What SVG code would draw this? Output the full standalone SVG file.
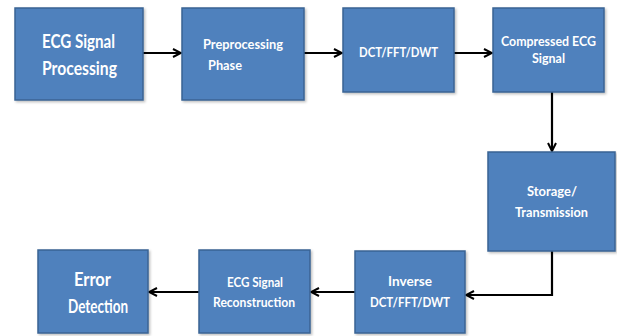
<svg xmlns="http://www.w3.org/2000/svg" width="617" height="336" viewBox="0 0 617 336">
<defs>
<marker id="ah" viewBox="0 0 10 10" refX="9" refY="5" markerWidth="10" markerHeight="10" markerUnits="userSpaceOnUse" orient="auto">
<path d="M1,1 L9,5 L1,9" fill="none" stroke="#000" stroke-width="2"/>
</marker>
<filter id="sh" x="-10%" y="-10%" width="130%" height="130%">
<feDropShadow dx="1.5" dy="1.5" stdDeviation="1" flood-color="#000" flood-opacity="0.25"/>
</filter>
</defs>
<style>
.box{fill:#4F81BD;stroke:#3A6494;stroke-width:1.5;filter:url(#sh)}
.t{font-family:Lato,"Open Sans","Liberation Sans",sans-serif;font-weight:bold;fill:#fff}
.s{font-size:13.5px}
.l{font-size:19px}
.c{fill:none;stroke:#000;stroke-width:2.2;marker-end:url(#ah)}
</style>
<rect width="617" height="336" fill="#fff"/>
<g id="connectors">
<line class="c" x1="143" y1="53" x2="181" y2="53"/>
<line class="c" x1="304" y1="53" x2="342" y2="53"/>
<line class="c" x1="454" y1="53" x2="492" y2="53"/>
<line class="c" x1="552" y1="92" x2="552" y2="151"/>
<polyline class="c" points="552,251 552,295 466,295"/>
<line class="c" x1="355" y1="292" x2="311" y2="292"/>
<line class="c" x1="199" y1="292" x2="149" y2="292"/>
</g>
<g id="n1">
<rect class="box" x="15" y="8" width="128" height="92"/>
<text class="t l" x="42" y="48" textLength="73" lengthAdjust="spacingAndGlyphs">ECG Signal</text>
<text class="t l" x="42" y="75" textLength="75" lengthAdjust="spacingAndGlyphs">Processing</text>
</g>
<g id="n2">
<rect class="box" x="182" y="8" width="122" height="92"/>
<text class="t s" x="203" y="49" textLength="80" lengthAdjust="spacingAndGlyphs">Preprocessing</text>
<text class="t s" x="208" y="70" textLength="34" lengthAdjust="spacingAndGlyphs">Phase</text>
</g>
<g id="n3">
<rect class="box" x="343" y="8" width="111" height="84"/>
<text class="t s" x="359" y="57" textLength="79" lengthAdjust="spacingAndGlyphs">DCT/FFT/DWT</text>
</g>
<g id="n4">
<rect class="box" x="493" y="8" width="111" height="84"/>
<text class="t s" x="501" y="46" textLength="95" lengthAdjust="spacingAndGlyphs">Compressed ECG</text>
<text class="t s" x="532" y="63" textLength="33" lengthAdjust="spacingAndGlyphs">Signal</text>
</g>
<g id="n5">
<rect class="box" x="488" y="152" width="127" height="99"/>
<text class="t s" x="527" y="196" textLength="50" lengthAdjust="spacingAndGlyphs">Storage/</text>
<text class="t s" x="515" y="217" textLength="73" lengthAdjust="spacingAndGlyphs">Transmission</text>
</g>
<g id="n6">
<rect class="box" x="355" y="251" width="110" height="82"/>
<text class="t s" x="388" y="286" textLength="44" lengthAdjust="spacingAndGlyphs">Inverse</text>
<text class="t s" x="370" y="307" textLength="80" lengthAdjust="spacingAndGlyphs">DCT/FFT/DWT</text>
</g>
<g id="n7">
<rect class="box" x="199" y="250" width="111" height="83"/>
<text class="t s" x="227" y="287" textLength="56" lengthAdjust="spacingAndGlyphs">ECG Signal</text>
<text class="t s" x="213" y="307" textLength="82" lengthAdjust="spacingAndGlyphs">Reconstruction</text>
</g>
<g id="n8">
<rect class="box" x="38" y="250" width="110" height="83"/>
<text class="t l" x="74" y="286" textLength="37" lengthAdjust="spacingAndGlyphs">Error</text>
<text class="t l" x="68" y="313" textLength="60" lengthAdjust="spacingAndGlyphs">Detection</text>
</g>
</svg>
